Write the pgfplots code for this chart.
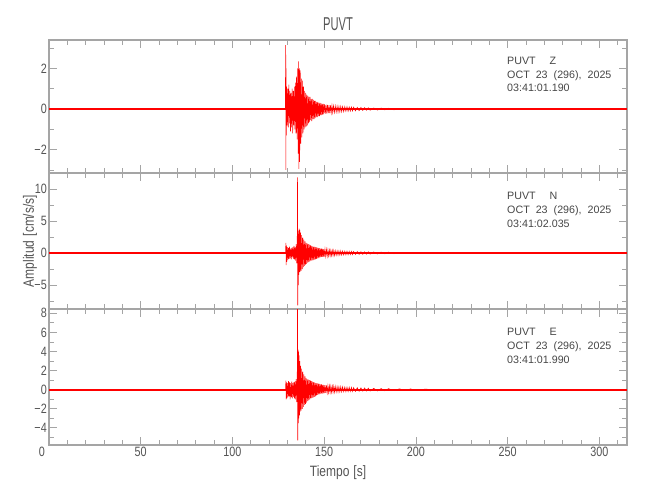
\documentclass[border=0pt]{standalone}
\usepackage{fontspec}
\usepackage{graphicx}
\usepackage{pgfplots}
\pgfplotsset{compat=1.18}
\setmainfont{Liberation Sans}
\newfontfamily\nf{Liberation Sans}[FakeStretch=0.8]
\definecolor{txt}{RGB}{85,85,85}
\definecolor{anno}{RGB}{70,70,70}
\definecolor{framec}{RGB}{165,165,165}
\definecolor{trc}{RGB}{255,0,0}
\pgfplotsset{panel/.style={
  scale only axis, width=578pt, xmin=0, xmax=315,
  axis line style={framec, line width=1.2pt},
  every tick/.style={framec, line width=0.9pt},
  major tick length=8pt, minor tick length=5pt,
  xtick={0,50,...,300}, minor xtick={10,20,...,310},
  tick label style={font=\fontsize{13.5}{14}\selectfont\nf, text=txt},
  /pgf/number format/assume math mode=true,
  yticklabel style={inner sep=1pt, xshift=-1pt},
  xticklabel style={inner sep=2pt},
  clip=true}}
\begin{document}
\begin{tikzpicture}
\path[use as bounding box] (0pt,0pt) rectangle (650pt,-500pt);
% ---------------- Z
\begin{axis}[panel, at={(49pt,-173pt)}, anchor=south west, height=133pt,
  ymin=-3.15, ymax=3.4, ytick={-2,0,2}, yticklabels={−2,0,2},
  minor ytick={-3,-1,1,3}, xticklabels={}]
\addplot[trc, line width=2pt] coordinates {(0,0) (315,0)};
\addplot[trc, line width=0.55pt] coordinates {
(128.8,0) (129.0,3.15) (129.1,-3.0) (129.2,2.0) (129.35,-1.3) (129.5,1.1)
(129.8,-0.8) (130.1,1.0) (130.4,-0.9) (130.7,1.2) (131.0,-0.7) (131.3,0.9) (131.6,-1.1) (131.9,0.8) (132.2,-0.9) (132.5,1.0) (132.8,-1.2) (133.1,0.9) (133.4,-0.8) (133.7,1.1) (134.0,-1.0) (134.3,1.3) (134.6,-1.2) (134.9,1.6) (135.2,-1.5) (135.5,2.0) (135.8,-2.2) (136.0,2.35) (136.2,-2.95) (136.4,2.0) (136.6,-2.6) (136.9,1.9) (137.2,-1.7) (137.5,1.5) (137.8,-1.4) (138.1,1.4) (138.4,-1.2) (138.7,1.1) (139.0,-1.0) (139.3,0.9) (139.6,-0.9) (139.9,0.8) (140.2,-0.85) (140.5,0.7) (140.8,-0.8) (141.1,0.65) (141.4,-0.7) (141.7,0.6) (142.0,-0.65) (142.3,0.6) (142.6,-0.55) (142.9,0.5) (143.2,-0.6) (143.5,0.5) (143.8,-0.5) (144.1,0.45) (144.4,-0.5) (144.7,0.4) (145.0,-0.45) (145.3,0.4) (145.6,-0.4) (145.9,0.35) (146.2,-0.4) (146.5,0.35) (146.8,-0.35) (147.1,0.3) (147.4,-0.35) (147.7,0.3) (148.0,-0.3) (148.3,0.28) (148.6,-0.3) (148.9,0.25) (149.2,-0.28) (149.5,0.25) (149.8,-0.25) (150.2,0.24) (150.6,-0.22) (151.0,0.22) (151.4,-0.22) (151.8,0.2) (152.2,-0.2) (152.6,0.19) (153.0,-0.2) (153.4,0.18) (153.8,-0.18) (154.2,0.17) (154.6,-0.17) (155.0,0.16) (155.5,-0.17) (156.0,0.15) (156.5,-0.15) (157.0,0.14) (157.5,-0.15) (158.0,0.13) (158.5,-0.14) (159.0,0.13) (159.5,-0.13) (160.0,0.12) (160.6,-0.13) (161.2,0.12) (161.8,-0.11) (162.4,0.11) (163.0,-0.11) (163.6,0.1) (164.2,-0.1) (164.8,0.1) (165.4,-0.09) (166.0,0.09) (167,-0.09) (168,0.08) (169,-0.08) (170,0.08) (171,-0.07) (172,0.07) (173,-0.06) (174,0.06) (175,-0.06) (177,0.05) (179,-0.05) (181,0.05) (183,-0.04) (185,0.04) (188,-0.04) (191,0.03) (194,-0.03) (197,0.03) (200,0)};
\end{axis}
% ---------------- N
\begin{axis}[panel, at={(49pt,-309pt)}, anchor=south west, height=136pt,
  ymin=-8.75, ymax=12.5, ytick={-5,0,5,10}, yticklabels={−5,0,5,10},
  minor ytick={-7.5,-2.5,2.5,7.5}, xticklabels={}]
\addplot[trc, line width=2pt] coordinates {(0,0) (315,0)};
\addplot[trc, line width=0.55pt] coordinates {
(128.9,0) (129.1,1.6) (129.25,-1.9) (129.4,1.2) (129.6,-1.4) (129.9,0.9) (130.2,-1.1) (130.5,0.8) (130.8,-0.9) (131.1,1.0) (131.4,-0.8) (131.7,0.7) (132.0,-1.0) (132.3,0.8) (132.6,-0.7) (132.9,0.9) (133.2,-0.9) (133.5,1.1) (133.8,-1.0) (134.1,0.9) (134.4,-1.2) (134.7,1.4) (135.0,-1.6) (135.3,2.5) (135.45,11.8) (135.55,-8.2) (135.7,3.0) (135.85,-5.0) (136.0,3.5) (136.15,-3.4) (136.3,3.8) (136.5,-3.0) (136.7,3.6) (136.9,-2.9) (137.1,3.2) (137.4,-2.8) (137.7,2.8) (138.0,-2.5) (138.3,2.4) (138.6,-2.2) (138.9,2.1) (139.2,-2.0) (139.5,1.8) (139.8,-1.8) (140.1,1.6) (140.4,-1.7) (140.7,1.5) (141.0,-1.5) (141.3,1.4) (141.6,-1.4) (141.9,1.3) (142.2,-1.3) (142.5,1.2) (142.8,-1.2) (143.1,1.1) (143.4,-1.15) (143.7,1.05) (144.0,-1.1) (144.3,1.0) (144.6,-1.05) (144.9,0.95) (145.2,-1.0) (145.5,0.9) (145.8,-0.9) (146.1,0.85) (146.4,-0.85) (146.7,0.8) (147.0,-0.8) (147.3,0.75) (147.6,-0.7) (147.9,0.7) (148.2,-0.65) (148.5,0.7) (148.8,-0.6) (149.1,0.65) (149.4,-0.6) (149.7,0.6) (150.0,-0.55) (150.4,0.6) (150.8,-0.5) (151.2,0.55) (151.6,-0.5) (152.0,0.5) (152.4,-0.45) (152.8,0.45) (153.2,-0.45) (153.6,0.42) (154.0,-0.4) (154.4,0.4) (154.8,-0.4) (155.2,0.38) (155.6,-0.37) (156.0,0.36) (156.5,-0.35) (157.0,0.35) (157.5,-0.34) (158.0,0.33) (158.5,-0.33) (159.0,0.32) (159.5,-0.31) (160.0,0.3) (160.6,-0.3) (161.2,0.29) (161.8,-0.28) (162.4,0.28) (163.0,-0.27) (163.6,0.26) (164.2,-0.25) (164.8,0.25) (165.4,-0.24) (166.0,0.23) (167,-0.22) (168,0.22) (169,-0.21) (170,0.2) (171,-0.2) (172,0.19) (173,-0.18) (174,0.18) (175,-0.17) (177,0.16) (179,-0.15) (181,0.14) (183,-0.13) (185,0.13) (188,-0.12) (191,0.11) (194,-0.1) (197,0.1) (200,-0.09) (205,0.08) (210,-0.07) (215,0.06) (220,0)};
\end{axis}
% ---------------- E
\begin{axis}[panel, at={(49pt,-445pt)}, anchor=south west, height=136pt,
  ymin=-5.79, ymax=8.45, ytick={-4,-2,0,2,4,6,8}, yticklabels={−4,−2,0,2,4,6,8},
  minor ytick={-5,-3,-1,1,3,5,7},
  xticklabels={\makebox[0pt][r]{0\hspace{4pt}},50,100,150,200,250,300}]
\addplot[trc, line width=2pt] coordinates {(0,0) (315,0)};
\addplot[trc, line width=0.55pt] coordinates {
(128.9,0) (129.1,0.95) (129.25,-1.0) (129.4,0.8) (129.6,-0.9) (129.9,0.7) (130.2,-0.8) (130.5,0.9) (130.8,-0.7) (131.1,0.8) (131.4,-1.0) (131.7,0.7) (132.0,-0.8) (132.3,0.85) (132.6,-0.9) (132.9,0.7) (133.2,-0.75) (133.5,0.8) (133.8,-0.9) (134.1,0.9) (134.4,-1.0) (134.7,1.1) (135.0,-1.3) (135.3,1.8) (135.45,9.0) (135.55,-5.3) (135.7,4.2) (135.85,-3.5) (136.0,4.0) (136.15,-3.0) (136.3,3.6) (136.5,-2.7) (136.7,3.0) (136.9,-2.3) (137.1,2.5) (137.4,-2.2) (137.7,2.2) (138.0,-2.0) (138.3,1.9) (138.6,-1.8) (138.9,1.6) (139.2,-1.6) (139.5,1.4) (139.8,-1.5) (140.1,1.2) (140.4,-1.35) (140.7,1.1) (141.0,-1.2) (141.3,1.05) (141.6,-1.1) (141.9,1.0) (142.2,-1.0) (142.5,0.95) (142.8,-0.9) (143.1,0.9) (143.4,-0.85) (143.7,0.85) (144.0,-0.8) (144.3,0.8) (144.6,-0.75) (144.9,0.75) (145.2,-0.7) (145.5,0.7) (145.8,-0.6) (146.1,0.65) (146.4,-0.55) (146.7,0.65) (147.0,-0.5) (147.3,0.6) (147.6,-0.45) (147.9,0.55) (148.2,-0.42) (148.5,0.55) (148.8,-0.4) (149.1,0.5) (149.4,-0.38) (149.7,0.5) (150.0,-0.36) (150.4,0.48) (150.8,-0.34) (151.2,0.45) (151.6,-0.32) (152.0,0.43) (152.4,-0.3) (152.8,0.4) (153.2,-0.28) (153.6,0.38) (154.0,-0.27) (154.4,0.36) (154.8,-0.26) (155.2,0.35) (155.6,-0.25) (156.0,0.34) (156.5,-0.24) (157.0,0.33) (157.5,-0.23) (158.0,0.32) (158.5,-0.22) (159.0,0.31) (159.5,-0.21) (160.0,0.3) (160.6,-0.2) (161.2,0.28) (161.8,-0.2) (162.4,0.26) (163.0,-0.19) (163.6,0.25) (164.2,-0.18) (164.8,0.24) (165.4,-0.17) (166.0,0.22) (167,-0.17) (168,0.2) (169,-0.16) (170,0.19) (171,-0.15) (172,0.18) (173,-0.14) (174,0.16) (175,-0.14) (177,0.14) (179,-0.13) (181,0.12) (183,-0.11) (185,0.11) (188,-0.1) (191,0.09) (194,-0.08) (197,0.08) (200,-0.07) (205,0.06) (210,0)};
\end{axis}
% ---------------- texts
\node[anchor=base, text=txt] at (338pt,-31pt) {\fontsize{18.6}{19}\selectfont\nf\scalebox{0.75}[1]{PUVT}};
\node[anchor=base, text=txt, font=\fontsize{15}{16}\selectfont\nf] at (338pt,-476pt) {Tiempo\hspace{4pt}[s]};
\node[rotate=90, text=txt, font=\fontsize{15}{16}\selectfont\nf] at (30pt,-241pt) {Amplitud\hspace{4pt}[cm/s/s]};
\begin{scope}[every node/.style={anchor=base west, text=anno, font=\fontsize{10.7}{12}\selectfont, inner sep=0pt}]
\node at (507pt,-64.5pt) {PUVT\hspace{14pt}Z};
\node at (507pt,-78.5pt) {OCT\hspace{6pt}23\hspace{6pt}(296),\hspace{6pt}2025};
\node at (507pt,-92pt) {03:41:01.190};
\node at (507pt,-199.5pt) {PUVT\hspace{14pt}N};
\node at (507pt,-213.5pt) {OCT\hspace{6pt}23\hspace{6pt}(296),\hspace{6pt}2025};
\node at (507pt,-227pt) {03:41:02.035};
\node at (507pt,-335.5pt) {PUVT\hspace{14pt}E};
\node at (507pt,-349.5pt) {OCT\hspace{6pt}23\hspace{6pt}(296),\hspace{6pt}2025};
\node at (507pt,-363pt) {03:41:01.990};
\end{scope}
\end{tikzpicture}
\end{document}
